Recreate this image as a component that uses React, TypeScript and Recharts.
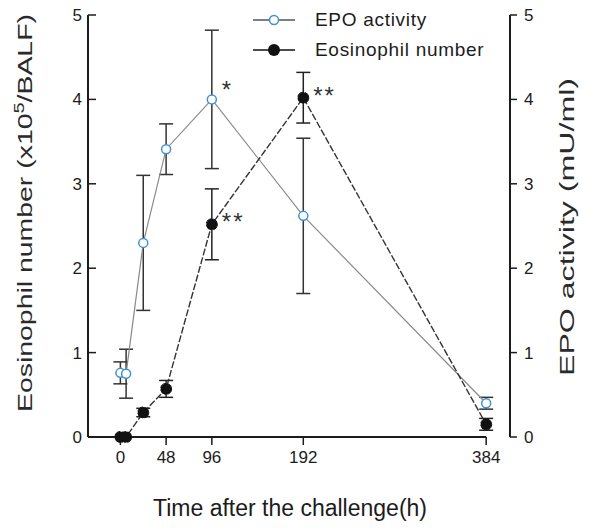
import React from 'react';
import {
  ComposedChart,
  Line,
  XAxis,
  YAxis,
  ErrorBar,
  LabelList,
  Label,
  Legend,
  ReferenceLine,
} from 'recharts';

const hours = [0, 6, 24, 48, 96, 192, 384];
const epoActivity = [0.76, 0.75, 2.3, 3.41, 4.0, 2.62, 0.4];
const epoError = [0.13, 0.29, 0.8, 0.3, 0.82, 0.92, 0.07];
const eosinophils = [0, 0, 0.29, 0.57, 2.52, 4.02, 0.15];
const eosError = [null, null, 0.05, 0.1, 0.42, 0.3, 0.07];
const epoMarks = ['', '', '', '', '*', '', ''];
const eosMarks = ['', '', '', '', '**', '**', ''];
const xTicks = [0, 48, 96, 192, 384];
const yTicks = [0, 1, 2, 3, 4, 5];

const FONT = '"Liberation Sans", Arial, sans-serif';
const INK = '#1c1c1c';
const EPO_BLUE = '#3f93d2';

const data = hours.map((hour, i) => ({
  hour,
  epo: epoActivity[i],
  epoErr: epoError[i],
  eos: eosinophils[i],
  eosErr: eosError[i],
  epoMark: epoMarks[i],
  eosMark: eosMarks[i],
}));

const tickStyle = { fontSize: 17, fill: INK, fontFamily: FONT };

// significance stars sit just right of the point
const renderMark = (dy: number) => (props: any) => {
  const { x, y, value } = props;
  if (!value) return null;
  return (
    <text x={x + 10} y={y + dy} fontSize={24} letterSpacing={2} fill="#333" fontFamily={FONT}>
      {value}
    </text>
  );
};

const LegendContent = ({ payload }: any) => (
  <div style={{ fontFamily: FONT, color: INK, fontSize: 19, letterSpacing: 0.7 }}>
    {(payload || []).map((entry: any) => {
      const isEpo = entry.dataKey === 'epo';
      return (
        <div key={entry.value} style={{ display: 'flex', alignItems: 'center', height: 30 }}>
          <svg width={46} height={16} style={{ marginRight: 18 }}>
            <line x1={2} y1={8} x2={44} y2={8} stroke={isEpo ? '#555' : '#111'} strokeWidth={1.5} />
            {isEpo ? (
              <circle cx={23} cy={8} r={4.5} fill="#fff" stroke={EPO_BLUE} strokeWidth={1.5} />
            ) : (
              <circle cx={23} cy={8} r={6} fill="#111" />
            )}
          </svg>
          <span>{entry.value}</span>
        </div>
      );
    })}
  </div>
);

export default function App() {
  return (
    <div style={{ position: 'absolute', left: 0, top: 0, width: 593, height: 528, background: '#fff' }}>
      <ComposedChart width={593} height={528} data={data} margin={{ top: 15, right: 0, bottom: 0, left: 0 }}>
        <XAxis
          dataKey="hour"
          type="number"
          domain={[-34, 409]}
          allowDataOverflow
          ticks={xTicks}
          axisLine={false}
          tickSize={8}
          tickMargin={6}
          tickLine={{ stroke: INK, strokeWidth: 1.5 }}
          tick={tickStyle}
          height={91}
        >
          <Label
            content={() => (
              <text x={290} y={516} textAnchor="middle" fontSize={23} fill={INK} fontFamily={FONT}>
                Time after the challenge(h)
              </text>
            )}
          />
        </XAxis>
        <YAxis
          yAxisId="left"
          domain={[0, 5]}
          ticks={yTicks}
          width={88}
          tickSize={-8}
          tickMargin={14}
          axisLine={{ stroke: INK, strokeWidth: 2 }}
          tickLine={{ stroke: INK, strokeWidth: 1.5 }}
          tick={tickStyle}
        >
          <Label
            content={() => (
              <text
                x={32}
                y={213}
                transform="rotate(-90, 32, 213)"
                textAnchor="middle"
                fontSize={20}
                fill="#2a2a2a"
                fontFamily={FONT}
                textLength={398}
                lengthAdjust="spacingAndGlyphs"
              >
                Eosinophil number (x10
                <tspan dy={-8} fontSize={14}>5</tspan>
                <tspan dy={8}>/BALF)</tspan>
              </text>
            )}
          />
        </YAxis>
        <YAxis
          yAxisId="right"
          orientation="right"
          domain={[0, 5]}
          ticks={yTicks}
          width={83}
          tickSize={7}
          tickMargin={7}
          axisLine={{ stroke: INK, strokeWidth: 2 }}
          tickLine={{ stroke: INK, strokeWidth: 1.5 }}
          tick={tickStyle}
        >
          <Label
            content={() => (
              <text
                x={574}
                y={227}
                transform="rotate(-90, 574, 227)"
                textAnchor="middle"
                fontSize={20}
                fill="#2a2a2a"
                fontFamily={FONT}
                textLength={298}
                lengthAdjust="spacingAndGlyphs"
              >
                EPO activity (mU/ml)
              </text>
            )}
          />
        </YAxis>
        <ReferenceLine
          yAxisId="left"
          segment={[{ x: -34, y: 0 }, { x: 384, y: 0 }]}
          stroke={INK}
          strokeWidth={2}
          ifOverflow="visible"
        />
        <Legend
          verticalAlign="middle"
          align="center"
          content={<LegendContent />}
          wrapperStyle={{ top: 5, left: 251, width: 260 }}
        />
        <Line
          yAxisId="right"
          dataKey="epo"
          name="EPO activity"
          stroke="#8a8a8a"
          strokeWidth={1.2}
          dot={{ r: 4.5, fill: '#fff', stroke: EPO_BLUE, strokeWidth: 1.5 }}
          activeDot={false}
          isAnimationActive={false}
        >
          <ErrorBar dataKey="epoErr" width={7} stroke="#333" strokeWidth={1.5} direction="y" />
          <LabelList dataKey="epoMark" content={renderMark(-1)} />
        </Line>
        <Line
          yAxisId="left"
          dataKey="eos"
          name="Eosinophil number"
          stroke="#333"
          strokeWidth={1.4}
          strokeDasharray="7 2"
          dot={{ r: 5.5, fill: '#111', stroke: '#111', strokeWidth: 1 }}
          activeDot={false}
          isAnimationActive={false}
        >
          <ErrorBar dataKey="eosErr" width={7} stroke="#222" strokeWidth={1.5} direction="y" />
          <LabelList dataKey="eosMark" content={renderMark(6)} />
        </Line>
      </ComposedChart>
    </div>
  );
}
